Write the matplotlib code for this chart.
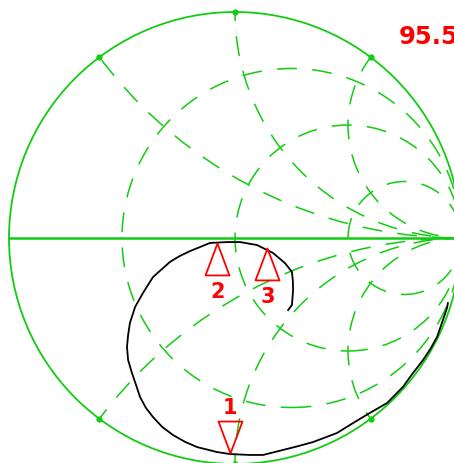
import numpy as np
import matplotlib
matplotlib.use('Agg')
import matplotlib.pyplot as plt
from matplotlib.patches import Circle
from matplotlib.path import Path

GREEN = '#11cc11'
RED = '#ff0000'

# smith chart grid
r_vals = [1 / 3, 1, 3]
x_vals = [0.5, 1, 2, -0.5, -1, -2]

# measured trace (reflection coefficient, re / im)
trace_re = [0.235, 0.252, 0.257, 0.256, 0.252, 0.221, 0.168, 0.097, 0.022, -0.035, -0.111,
            -0.155, -0.199, -0.245, -0.288, -0.363, -0.407, -0.442, -0.465, -0.473, -0.478,
            -0.473, -0.456, -0.438, -0.420, -0.394, -0.363, -0.322, -0.274, -0.221, -0.168,
            -0.080, -0.022, 0.066, 0.124, 0.212, 0.279, 0.345, 0.451, 0.522, 0.597, 0.673,
            0.743, 0.788, 0.832, 0.865, 0.894, 0.920, 0.938, 0.942]
trace_im = [-0.319, -0.296, -0.230, -0.190, -0.150, -0.111, -0.066, -0.031, -0.018, -0.018, -0.022,
            -0.040, -0.058, -0.080, -0.106, -0.173, -0.243, -0.305, -0.376, -0.430, -0.482,
            -0.540, -0.597, -0.650, -0.704, -0.752, -0.792, -0.836, -0.872, -0.902, -0.925,
            -0.947, -0.956, -0.960, -0.960, -0.938, -0.921, -0.903, -0.863, -0.819, -0.774, -0.730,
            -0.659, -0.597, -0.540, -0.490, -0.438, -0.363, -0.310, -0.288]

# markers
marker_names = ['1', '2', '3']
marker_re = [-0.022, -0.080, 0.142]
marker_im = [-0.951, -0.022, -0.044]
marker_down = [True, False, False]

freq_text = '95.5'

fig = plt.figure(figsize=(4.54, 4.63), dpi=100)
ax = fig.add_axes([0, 0, 1, 1])
ax.set_xlim(-235 / 226, 219 / 226)
ax.set_ylim(-225 / 226, 238 / 226)
ax.axis('off')

outer = Circle((0, 0), 1, fill=False, ec=GREEN, lw=1.3, zorder=3)
ax.add_patch(outer)
clip = Circle((0, 0), 1, transform=ax.transData)

dash = (0, (13, 10))
for r in r_vals:
    c = Circle((r / (1 + r), 0), 1 / (1 + r), fill=False, ec=GREEN, lw=1.1, ls=dash)
    ax.add_patch(c)
    c.set_clip_path(clip)
for x in x_vals:
    c = Circle((1, 1 / x), abs(1 / x), fill=False, ec=GREEN, lw=1.1, ls=dash)
    ax.add_patch(c)
    c.set_clip_path(clip)

ax.plot([-1, 1], [0, 0], color=GREEN, lw=1.8, zorder=3)

xs = np.array(x_vals)
ax.plot((xs ** 2 - 1) / (xs ** 2 + 1), 2 * xs / (xs ** 2 + 1), 'o', color=GREEN, ms=3.5, zorder=4)

ax.plot(trace_re, trace_im, color='black', lw=1.3, zorder=5)

up_tri = Path([(0, 0), (-0.375, -1), (0.375, -1), (0, 0)],
              [Path.MOVETO, Path.LINETO, Path.LINETO, Path.CLOSEPOLY])
down_tri = Path([(0, 0), (-0.375, 1), (0.375, 1), (0, 0)],
                [Path.MOVETO, Path.LINETO, Path.LINETO, Path.CLOSEPOLY])

for name, mr, mi, down in zip(marker_names, marker_re, marker_im, marker_down):
    ax.plot(mr, mi, marker=down_tri if down else up_tri, ms=46, mfc='none',
            mec=RED, mew=1.3, zorder=6)
    off = (0, 45) if down else (1, -49)
    ax.annotate(name, (mr, mi), xytext=off, textcoords='offset pixels',
                ha='center', va='center', color=RED, fontsize=15,
                fontweight='bold', family='DejaVu Sans', zorder=7)

fig.text(399 / 454, 1 - 37 / 463, freq_text, color=RED, fontsize=17.5,
         fontweight='bold', family='DejaVu Sans', ha='left', va='center')

fig.savefig('out.png', dpi=100)
